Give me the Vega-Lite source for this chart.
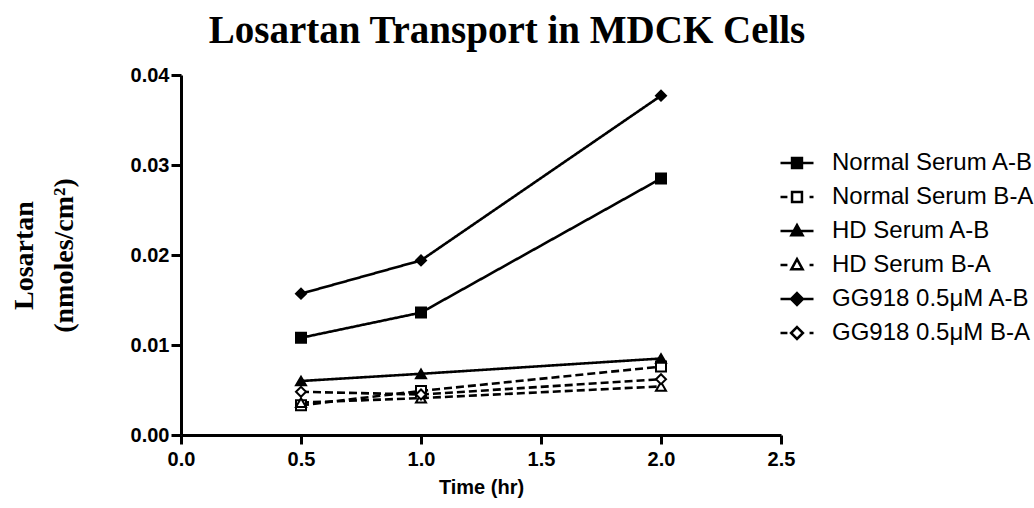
{
  "$schema": "https://vega.github.io/schema/vega-lite/v6.json",
  "width": 600,
  "height": 360,
  "autosize": {"type": "none"},
  "padding": {"left": 181, "top": 75, "right": 253, "bottom": 73},
  "background": "white",
  "config": {"view": {"stroke": null}},
  "title": {
    "text": "Losartan Transport in MDCK Cells",
    "font": "Liberation Serif",
    "fontSize": 39,
    "fontWeight": "bold",
    "color": "black",
    "anchor": "middle",
    "dx": 26,
    "offset": 14
  },
  "data": {
    "values": [
      {"series": "Normal Serum A-B", "time": 0.5, "value": 0.0108},
      {"series": "Normal Serum A-B", "time": 1.0, "value": 0.0136},
      {"series": "Normal Serum A-B", "time": 2.0, "value": 0.0285},
      {"series": "Normal Serum B-A", "time": 0.5, "value": 0.0033},
      {"series": "Normal Serum B-A", "time": 1.0, "value": 0.0049},
      {"series": "Normal Serum B-A", "time": 2.0, "value": 0.0076},
      {"series": "HD Serum  A-B", "time": 0.5, "value": 0.0060},
      {"series": "HD Serum  A-B", "time": 1.0, "value": 0.0068},
      {"series": "HD Serum  A-B", "time": 2.0, "value": 0.0085},
      {"series": "HD Serum B-A", "time": 0.5, "value": 0.0036},
      {"series": "HD Serum B-A", "time": 1.0, "value": 0.0041},
      {"series": "HD Serum B-A", "time": 2.0, "value": 0.0054},
      {"series": "GG918 0.5μM A-B", "time": 0.5, "value": 0.0157},
      {"series": "GG918 0.5μM A-B", "time": 1.0, "value": 0.0194},
      {"series": "GG918 0.5μM A-B", "time": 2.0, "value": 0.0377},
      {"series": "GG918 0.5μM B-A", "time": 0.5, "value": 0.0048},
      {"series": "GG918 0.5μM B-A", "time": 1.0, "value": 0.0045},
      {"series": "GG918 0.5μM B-A", "time": 2.0, "value": 0.0062}
    ]
  },
  "encoding": {
    "x": {
      "field": "time", "type": "quantitative",
      "scale": {"domain": [0, 2.5], "nice": false, "zero": false},
      "axis": {
        "title": "Time (hr)",
        "values": [0, 0.5, 1, 1.5, 2, 2.5],
        "format": ".1f",
        "grid": false,
        "domainColor": "black", "domainWidth": 3,
        "tickColor": "black", "tickWidth": 3, "tickSize": 9,
        "labelFont": "Liberation Sans", "labelFontSize": 20, "labelFontWeight": "bold", "labelColor": "black",
        "labelPadding": 5, "labelFlush": false, "labelOverlap": false,
        "titleFont": "Liberation Sans", "titleFontSize": 20, "titleFontWeight": "bold", "titleColor": "black",
        "titlePadding": 8
      }
    },
    "y": {
      "field": "value", "type": "quantitative",
      "scale": {"domain": [0, 0.04], "nice": false},
      "axis": {
        "title": ["Losartan", "(nmoles/cm²)"],
        "values": [0, 0.01, 0.02, 0.03, 0.04],
        "format": ".2f",
        "grid": false,
        "domainColor": "black", "domainWidth": 3,
        "tickColor": "black", "tickWidth": 3, "tickSize": 10,
        "labelFont": "Liberation Sans", "labelFontSize": 20, "labelFontWeight": "bold", "labelColor": "black",
        "labelPadding": 2, "labelFlush": false, "labelOverlap": false,
        "titleFont": "Liberation Serif", "titleFontSize": 28, "titleFontWeight": "bold", "titleColor": "black",
        "titleLineHeight": 40,
        "titleAngle": -90, "titleBaseline": "alphabetic", "titleAlign": "center",
        "titleX": -149, "titleY": 180
      }
    }
  },
  "layer": [
    {
      "mark": {"type": "line", "color": "black", "strokeWidth": 2.6},
      "encoding": {
        "detail": {"field": "series"},
        "strokeDash": {
          "field": "series", "type": "nominal",
          "scale": {
            "domain": ["Normal Serum A-B", "Normal Serum B-A", "HD Serum  A-B", "HD Serum B-A", "GG918 0.5μM A-B", "GG918 0.5μM B-A"],
            "range": [[1, 0], [8, 4], [1, 0], [8, 4], [1, 0], [8, 4]]
          },
          "legend": null
        }
      }
    },
    {
      "mark": {"type": "point", "filled": true, "stroke": "black", "strokeWidth": 2, "size": 100, "opacity": 1},
      "encoding": {
        "shape": {
          "field": "series", "type": "nominal",
          "scale": {
            "domain": ["Normal Serum A-B", "Normal Serum B-A", "HD Serum  A-B", "HD Serum B-A", "GG918 0.5μM A-B", "GG918 0.5μM B-A"],
            "range": ["square", "square", "triangle-up", "triangle-up", "diamond", "diamond"]
          },
          "legend": null
        },
        "fill": {
          "field": "series", "type": "nominal",
          "scale": {
            "domain": ["Normal Serum A-B", "Normal Serum B-A", "HD Serum  A-B", "HD Serum B-A", "GG918 0.5μM A-B", "GG918 0.5μM B-A"],
            "range": ["black", "white", "black", "white", "black", "white"]
          },
          "legend": null
        }
      }
    },
    {
      "transform": [{"filter": "datum.time < 0"}],
      "mark": {"type": "point", "filled": false, "stroke": "black", "strokeWidth": 2.5, "opacity": 1},
      "encoding": {
        "shape": {
          "field": "series", "type": "nominal",
          "scale": {
            "domain": ["Normal Serum A-B", "Normal Serum B-A", "HD Serum  A-B", "HD Serum B-A", "GG918 0.5μM A-B", "GG918 0.5μM B-A"],
            "range": [
              "M-1,0H1M-0.3,-0.3H0.3V0.3H-0.3ZM-0.3,-0.15H0.3M-0.3,0.15H0.3",
              "M-1,0H-0.58M0.76,0H1M-0.3,-0.3H0.3V0.3H-0.3Z",
              "M-1,0H1M0,-0.36L0.34,0.26H-0.34ZM-0.08,-0.22H0.08M-0.14,-0.11H0.14M-0.27,0.13H0.27",
              "M-1,0H-0.58M0.76,0H1M0,-0.36L0.34,0.26H-0.34Z",
              "M-1,0H1M0,-0.36L0.36,0L0,0.36L-0.36,0ZM-0.21,-0.15H0.21M-0.21,0.15H0.21M-0.07,-0.28H0.07M-0.07,0.28H0.07",
              "M-1,0H-0.58M0.76,0H1M0,-0.36L0.36,0L0,0.36L-0.36,0Z"
            ]
          },
          "legend": {
            "title": null,
            "orient": "none",
            "legendX": 598,
            "legendY": 70,
            "padding": 0,
            "rowPadding": 4,
            "symbolSize": 1089,
            "symbolStrokeWidth": 2.5,
            "labelFont": "Liberation Sans",
            "labelFontSize": 24,
            "labelColor": "black",
            "labelOffset": 17,
            "labelLimit": 0
          }
        }
      }
    }
  ],
  "resolve": {"scale": {"shape": "independent", "fill": "independent", "strokeDash": "independent"}}
}
